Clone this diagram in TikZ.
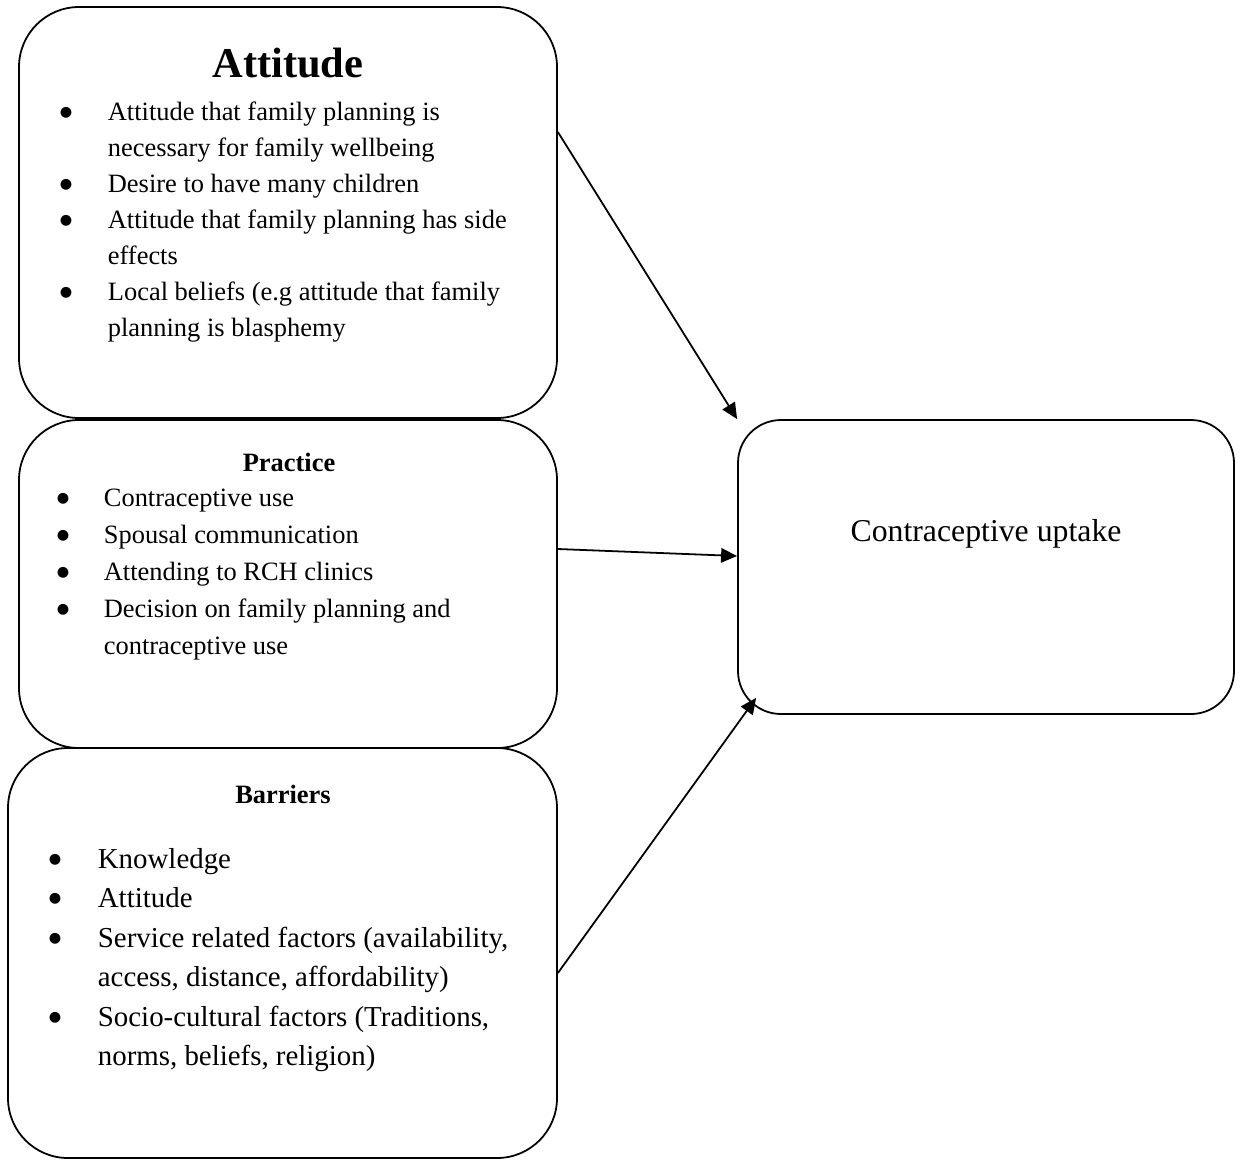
\documentclass[tikz,border=0pt]{standalone}
\usepackage{fontspec}
\setmainfont{Liberation Serif}
\newfontfamily\dotfont{DejaVu Sans}
\usetikzlibrary{calc,arrows.meta}

\newcommand{\bul}{\raisebox{2.1pt}{\dotfont\fontsize{6.4}{6.4}\selectfont ●}}

\begin{document}
\begin{tikzpicture}[x=0.45pt,y=-0.45pt,->,>={Triangle[length=7.2pt,width=6.5pt]},thick,
  box/.style={draw,rounded corners=#1,inner sep=0pt,minimum width=242.1pt},
  box/.default=27pt,
  head/.style={font=\fontsize{11.9}{14}\selectfont\bfseries,anchor=base,inner sep=0pt},
  list/.style={anchor=base west,inner sep=0pt}]
  \useasboundingbox (0,0) rectangle (1242,1160);

  % the three boxes on the left and the outcome box
  \node[box] (1) at (288,212.5) [minimum height=184.95pt] {};
  \node[box] (2) at (288,584) [minimum height=147.6pt] {};
  \node[box] (3) at (282.5,953) [minimum width=247.05pt,minimum height=184.5pt] {};
  \node[box=19.35pt] (4) at (986,567) [minimum width=223.2pt,minimum height=132.3pt] {};

  \node[anchor=base,inner sep=0pt,font=\fontsize{19.1}{22}\selectfont\bfseries] (1t) at (288,77) {Attitude};
  \node[list,font=\fontsize{11.9}{16.2}\selectfont] (1l) at (59,120.7) {\begin{tabular}[t]{@{}p{21.6pt}@{}l@{}}
    \bul & Attitude that family planning is\\
         & necessary for family wellbeing\\
    \bul & Desire to have many children\\
    \bul & Attitude that family planning has side\\
         & effects\\
    \bul & Local beliefs (e.g attitude that family\\
         & planning is blasphemy
  \end{tabular}};

  \node[head] (2t) at (289,471.7) {Practice};
  \node[list,font=\fontsize{11.9}{16.65}\selectfont] (2l) at (56,506.7) {\begin{tabular}[t]{@{}p{21.15pt}@{}l@{}}
    \bul & Contraceptive use\\
    \bul & Spousal communication\\
    \bul & Attending to RCH clinics\\
    \bul & Decision on family planning and\\
         & contraceptive use
  \end{tabular}};

  \node[head] (3t) at (283,803) {Barriers};
  \node[list,font=\fontsize{13}{17.8}\selectfont] (3l) at (48,868) {\begin{tabular}[t]{@{}p{22.05pt}@{}l@{}}
    \bul & Knowledge\\
    \bul & Attitude\\
    \bul & Service related factors (availability,\\
         & access, distance, affordability)\\
    \bul & Socio-cultural factors (Traditions,\\
         & norms, beliefs, religion)
  \end{tabular}};

  \node[anchor=base,inner sep=0pt,font=\fontsize{14.3}{17}\selectfont] (4t) at (986,541.7) {Contraceptive uptake};

  \path
    ($(1.east)+(0,-80.5)$) edge (4.north west)
    ($(2.east)+(0,-35)$) edge ($(4.west)+(0,-11)$)
    ($(3.east)+(0,20)$) edge ($(4.south west)+(19,-17)$);
\end{tikzpicture}
\end{document}
